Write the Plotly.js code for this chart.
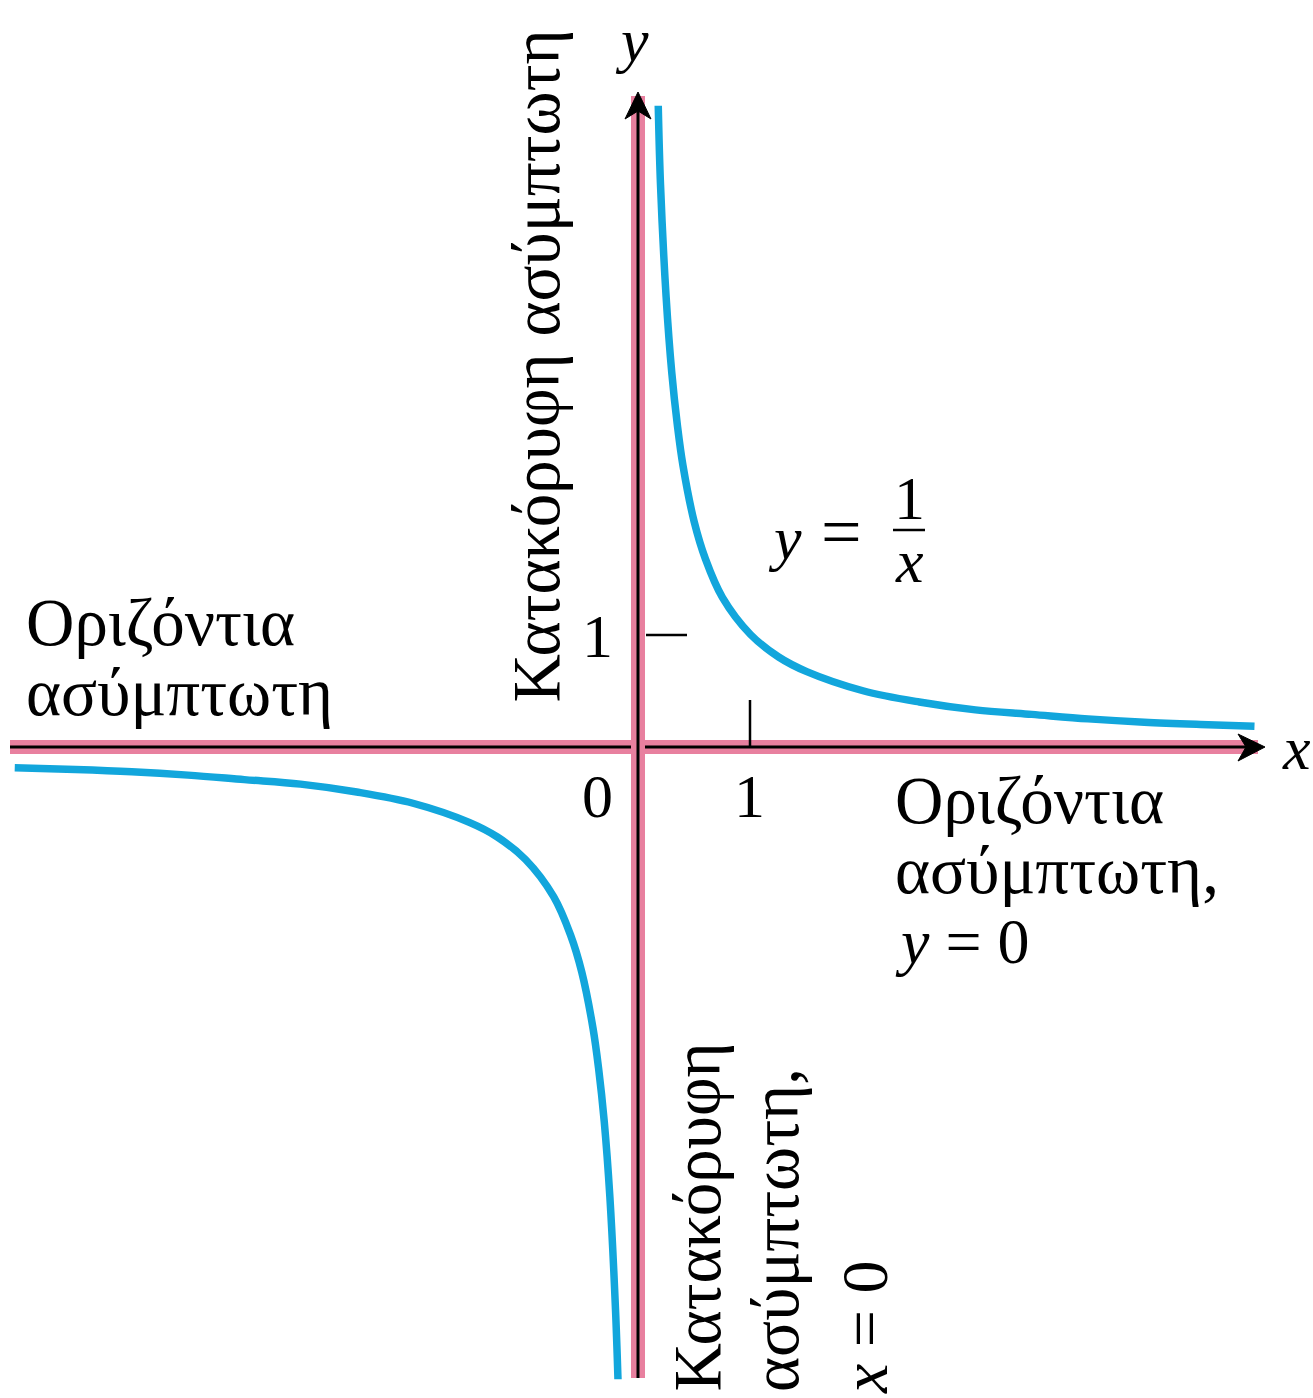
<!DOCTYPE html>
<html>
<head>
<meta charset="utf-8">
<script src="https://cdn.plot.ly/plotly-3.0.1.min.js"></script>
<style>html,body{margin:0;padding:0;background:#fff;}#chart{width:1313px;height:1398px;}</style>
</head>
<body>
<div id="chart"></div>
<script>
// Curve values (y = 1/x)
var xRight = [0.18, 0.2, 0.25, 0.3, 0.35, 0.4, 0.5, 0.6, 0.75, 1.0, 1.25, 1.5, 2.0, 2.5, 3.0, 3.5, 4.0, 4.5, 5.0, 5.48];
var yRight = [5.7, 5.0, 4.0, 3.33, 2.86, 2.5, 2.0, 1.67, 1.33, 1.0, 0.8, 0.67, 0.5, 0.4, 0.33, 0.29, 0.25, 0.22, 0.2, 0.185];
var xLeft = [-5.54, -5.0, -4.5, -4.0, -3.5, -3.0, -2.5, -2.0, -1.5, -1.25, -1.0, -0.75, -0.6, -0.5, -0.4, -0.35, -0.3, -0.25, -0.2, -0.178];
var yLeft = [-0.185, -0.2, -0.22, -0.25, -0.29, -0.33, -0.4, -0.5, -0.67, -0.8, -1.0, -1.33, -1.67, -2.0, -2.5, -2.86, -3.33, -4.0, -5.0, -5.62];
var tickLabels = ['0', '1', '1'];

var W = 1313, H = 1398;
function px(p) { return p / W; }
function py(p) { return 1 - p / H; }

var serif = 'Liberation Serif, Times New Roman, serif';
var fs = 67;
var pink = '#e8809f';
var blue = '#12a6dc';

var traces = [
  {x: xRight, y: yRight, mode: 'lines', line: {color: blue, width: 7.5, shape: 'spline', smoothing: 1.0}, hoverinfo: 'skip'},
  {x: xLeft, y: yLeft, mode: 'lines', line: {color: blue, width: 7.5, shape: 'spline', smoothing: 1.0}, hoverinfo: 'skip'}
];

function seg(x0, y0, x1, y1, color, width) {
  return {type: 'line', xref: 'paper', yref: 'paper', x0: px(x0), y0: py(y0), x1: px(x1), y1: py(y1), line: {color: color, width: width}, layer: 'below'};
}
function path(pts, color) {
  var d = pts.map(function (p, i) { return (i ? 'L' : 'M') + px(p[0]) + ',' + py(p[1]); }).join(' ') + ' Z';
  return {type: 'path', xref: 'paper', yref: 'paper', path: d, fillcolor: color, line: {color: color, width: 1}, layer: 'above'};
}

var shapes = [
  seg(10, 747, 1258, 747, pink, 14),
  seg(10, 747, 1250, 747, '#000', 3),
  seg(638, 1378, 638, 96, pink, 14),
  seg(638, 1378, 638, 104, '#000', 3),
  seg(750, 700, 750, 747, '#000', 2.5),
  seg(646, 635, 687, 635, '#000', 2.5),
  seg(893, 530, 925, 530, '#000', 2.5),
  path([[1265, 747], [1238, 734], [1246, 747], [1238, 761]], '#000'),
  path([[638, 92], [625, 119], [638, 111], [651, 119]], '#000')
];

function ann(text, x, y, opts) {
  var a = {text: text, xref: 'paper', yref: 'paper', x: px(x), y: py(y), showarrow: false,
           xanchor: 'center', yanchor: 'middle', font: {family: serif, size: fs, color: '#000'}};
  for (var k in opts) a[k] = opts[k];
  return a;
}
var numFont = {family: serif, size: 62, color: '#000'};

var annotations = [
  ann('Οριζόντια', 24, 622, {xanchor: 'left'}),
  ann('ασύμπτωτη', 24, 692, {xanchor: 'left'}),
  ann('Οριζόντια', 893, 800, {xanchor: 'left'}),
  ann('ασύμπτωτη,', 893, 870, {xanchor: 'left'}),
  ann('<i>y</i> = 0', 893, 941, {xanchor: 'left', font: {family: serif, size: 64, color: '#000'}}),
  ann(tickLabels[0], 597, 796, {font: numFont}),
  ann(tickLabels[1], 749, 796, {font: numFont}),
  ann(tickLabels[2], 597, 636, {font: numFont}),
  ann('<i>y</i>', 632, 40, {font: numFont}),
  ann('<i>x</i>', 1296, 748, {font: numFont}),
  ann('<i>y</i>', 785, 538, {font: numFont}),
  ann('=', 841, 532, {font: {family: serif, size: 72, color: '#000'}}),
  ann('1', 909, 498, {font: numFont}),
  ann('<i>x</i>', 909, 561, {font: numFont}),
  ann('Κατακόρυφη ασύμπτωτη', 535, 705, {textangle: -90, yanchor: 'bottom'}),
  ann('Κατακόρυφη', 696, 1394, {textangle: -90, yanchor: 'bottom'}),
  ann('ασύμπτωτη,', 775, 1394, {textangle: -90, yanchor: 'bottom'}),
  ann('<i>x</i> = 0', 864, 1396, {textangle: -90, yanchor: 'bottom', font: {family: serif, size: 66, color: '#000'}})
];

var layout = {
  width: W, height: H,
  margin: {l: 0, r: 0, t: 0, b: 0, pad: 0},
  paper_bgcolor: '#fff', plot_bgcolor: '#fff',
  showlegend: false,
  xaxis: {range: [-638 / 112.5, (W - 638) / 112.5], visible: false, fixedrange: true},
  yaxis: {range: [-(H - 747) / 112.5, 747 / 112.5], visible: false, fixedrange: true},
  shapes: shapes,
  annotations: annotations
};

Plotly.newPlot('chart', traces, layout, {displayModeBar: false, staticPlot: true});
</script>
</body>
</html>
